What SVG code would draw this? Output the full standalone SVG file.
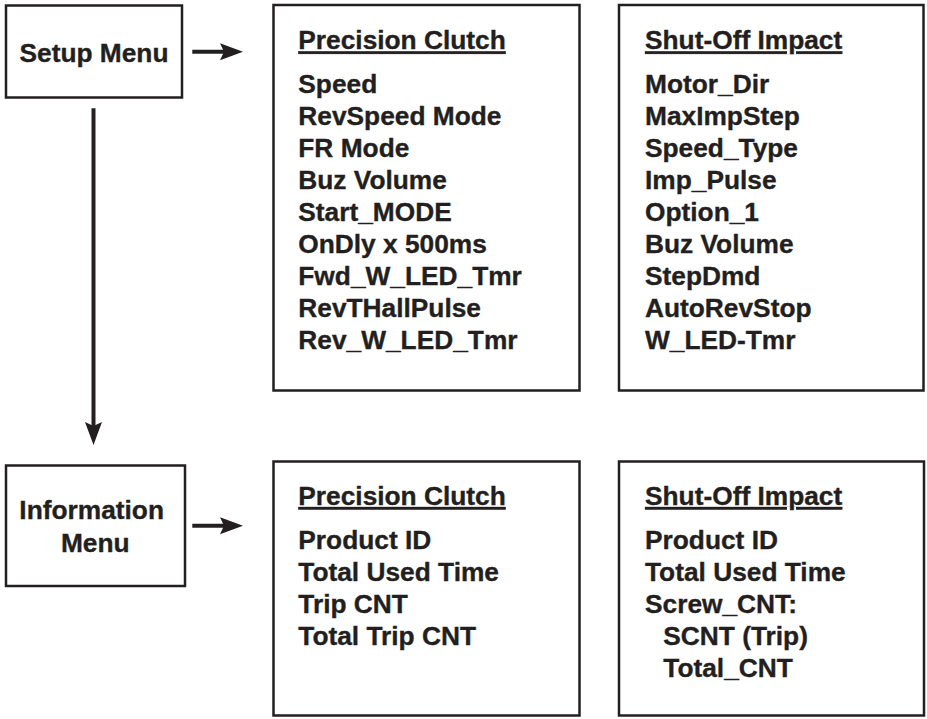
<svg xmlns="http://www.w3.org/2000/svg" width="927" height="719" viewBox="0 0 927 719">
  <style>
    .box { fill: #ffffff; stroke: #231f20; stroke-width: 2.5; }
    .t { font-family: "Liberation Sans", Arial, Helvetica, sans-serif; font-weight: bold; font-size: 26.3px; fill: #231f20; stroke: #231f20; stroke-width: 0.35px; }
    .c { text-anchor: middle; }
    .hd { text-decoration: underline; }
    .conn { stroke: #231f20; stroke-width: 4; fill: none; }
  </style>
  <defs>
    <marker id="arrow" markerUnits="userSpaceOnUse" markerWidth="24" markerHeight="18" refX="5" refY="8.5" orient="auto" viewBox="0 0 24 18">
      <path d="M0,0 L23,8.5 L0,17 L4,8.5 Z" fill="#231f20"/>
    </marker>
  </defs>
  <rect width="927" height="719" fill="#ffffff"/>

  <g id="setup-menu">
    <rect class="box" x="6" y="5.5" width="176" height="92"/>
    <text class="t c" x="94" y="62">Setup Menu</text>
  </g>

  <g id="setup-precision-clutch">
    <rect class="box" x="273.5" y="5" width="306" height="385.5"/>
    <text class="t hd" x="298.3" y="49.3">Precision Clutch</text>
    <text class="t" x="298.3">
      <tspan x="298.3" y="92.7">Speed</tspan>
      <tspan x="298.3" y="124.7">RevSpeed Mode</tspan>
      <tspan x="298.3" y="156.7">FR Mode</tspan>
      <tspan x="298.3" y="188.7">Buz Volume</tspan>
      <tspan x="298.3" y="220.7">Start_MODE</tspan>
      <tspan x="298.3" y="252.7">OnDly x 500ms</tspan>
      <tspan x="298.3" y="284.7">Fwd_W_LED_Tmr</tspan>
      <tspan x="298.3" y="316.7">RevTHallPulse</tspan>
      <tspan x="298.3" y="348.7">Rev_W_LED_Tmr</tspan>
    </text>
  </g>

  <g id="setup-shut-off-impact">
    <rect class="box" x="619" y="5" width="304.5" height="385.5"/>
    <text class="t hd" x="645" y="49.3">Shut-Off Impact</text>
    <text class="t" x="645">
      <tspan x="645" y="92.7">Motor_Dir</tspan>
      <tspan x="645" y="124.7">MaxImpStep</tspan>
      <tspan x="645" y="156.7">Speed_Type</tspan>
      <tspan x="645" y="188.7">Imp_Pulse</tspan>
      <tspan x="645" y="220.7">Option_1</tspan>
      <tspan x="645" y="252.7">Buz Volume</tspan>
      <tspan x="645" y="284.7">StepDmd</tspan>
      <tspan x="645" y="316.7">AutoRevStop</tspan>
      <tspan x="645" y="348.7">W_LED-Tmr</tspan>
    </text>
  </g>

  <g id="information-menu">
    <rect class="box" x="6" y="465.5" width="179" height="120.5"/>
    <text class="t c" x="95.3">
      <tspan x="95.3" y="519.3">Information</tspan>
      <tspan x="95.3" y="551.7">Menu</tspan>
    </text>
  </g>

  <g id="info-precision-clutch">
    <rect class="box" x="273.5" y="461.5" width="306" height="254"/>
    <text class="t hd" x="298.3" y="505">Precision Clutch</text>
    <text class="t" x="298.3">
      <tspan x="298.3" y="549.3">Product ID</tspan>
      <tspan x="298.3" y="581.3">Total Used Time</tspan>
      <tspan x="298.3" y="613.3">Trip CNT</tspan>
      <tspan x="298.3" y="645.3">Total Trip CNT</tspan>
    </text>
  </g>

  <g id="info-shut-off-impact">
    <rect class="box" x="619" y="461.5" width="305" height="254"/>
    <text class="t hd" x="645" y="505">Shut-Off Impact</text>
    <text class="t" x="645">
      <tspan x="645" y="549.3">Product ID</tspan>
      <tspan x="645" y="581.3">Total Used Time</tspan>
      <tspan x="645" y="613.3">Screw_CNT:</tspan>
      <tspan x="663.3" y="645.3">SCNT (Trip)</tspan>
      <tspan x="663.3" y="677.3">Total_CNT</tspan>
    </text>
  </g>

  <g id="connectors">
    <line class="conn" x1="192.3" y1="51.7" x2="225" y2="51.7" marker-end="url(#arrow)"/>
    <line class="conn" x1="192.3" y1="525.7" x2="225" y2="525.7" marker-end="url(#arrow)"/>
    <line class="conn" x1="93.5" y1="108.3" x2="93.5" y2="427" marker-end="url(#arrow)"/>
  </g>
</svg>
